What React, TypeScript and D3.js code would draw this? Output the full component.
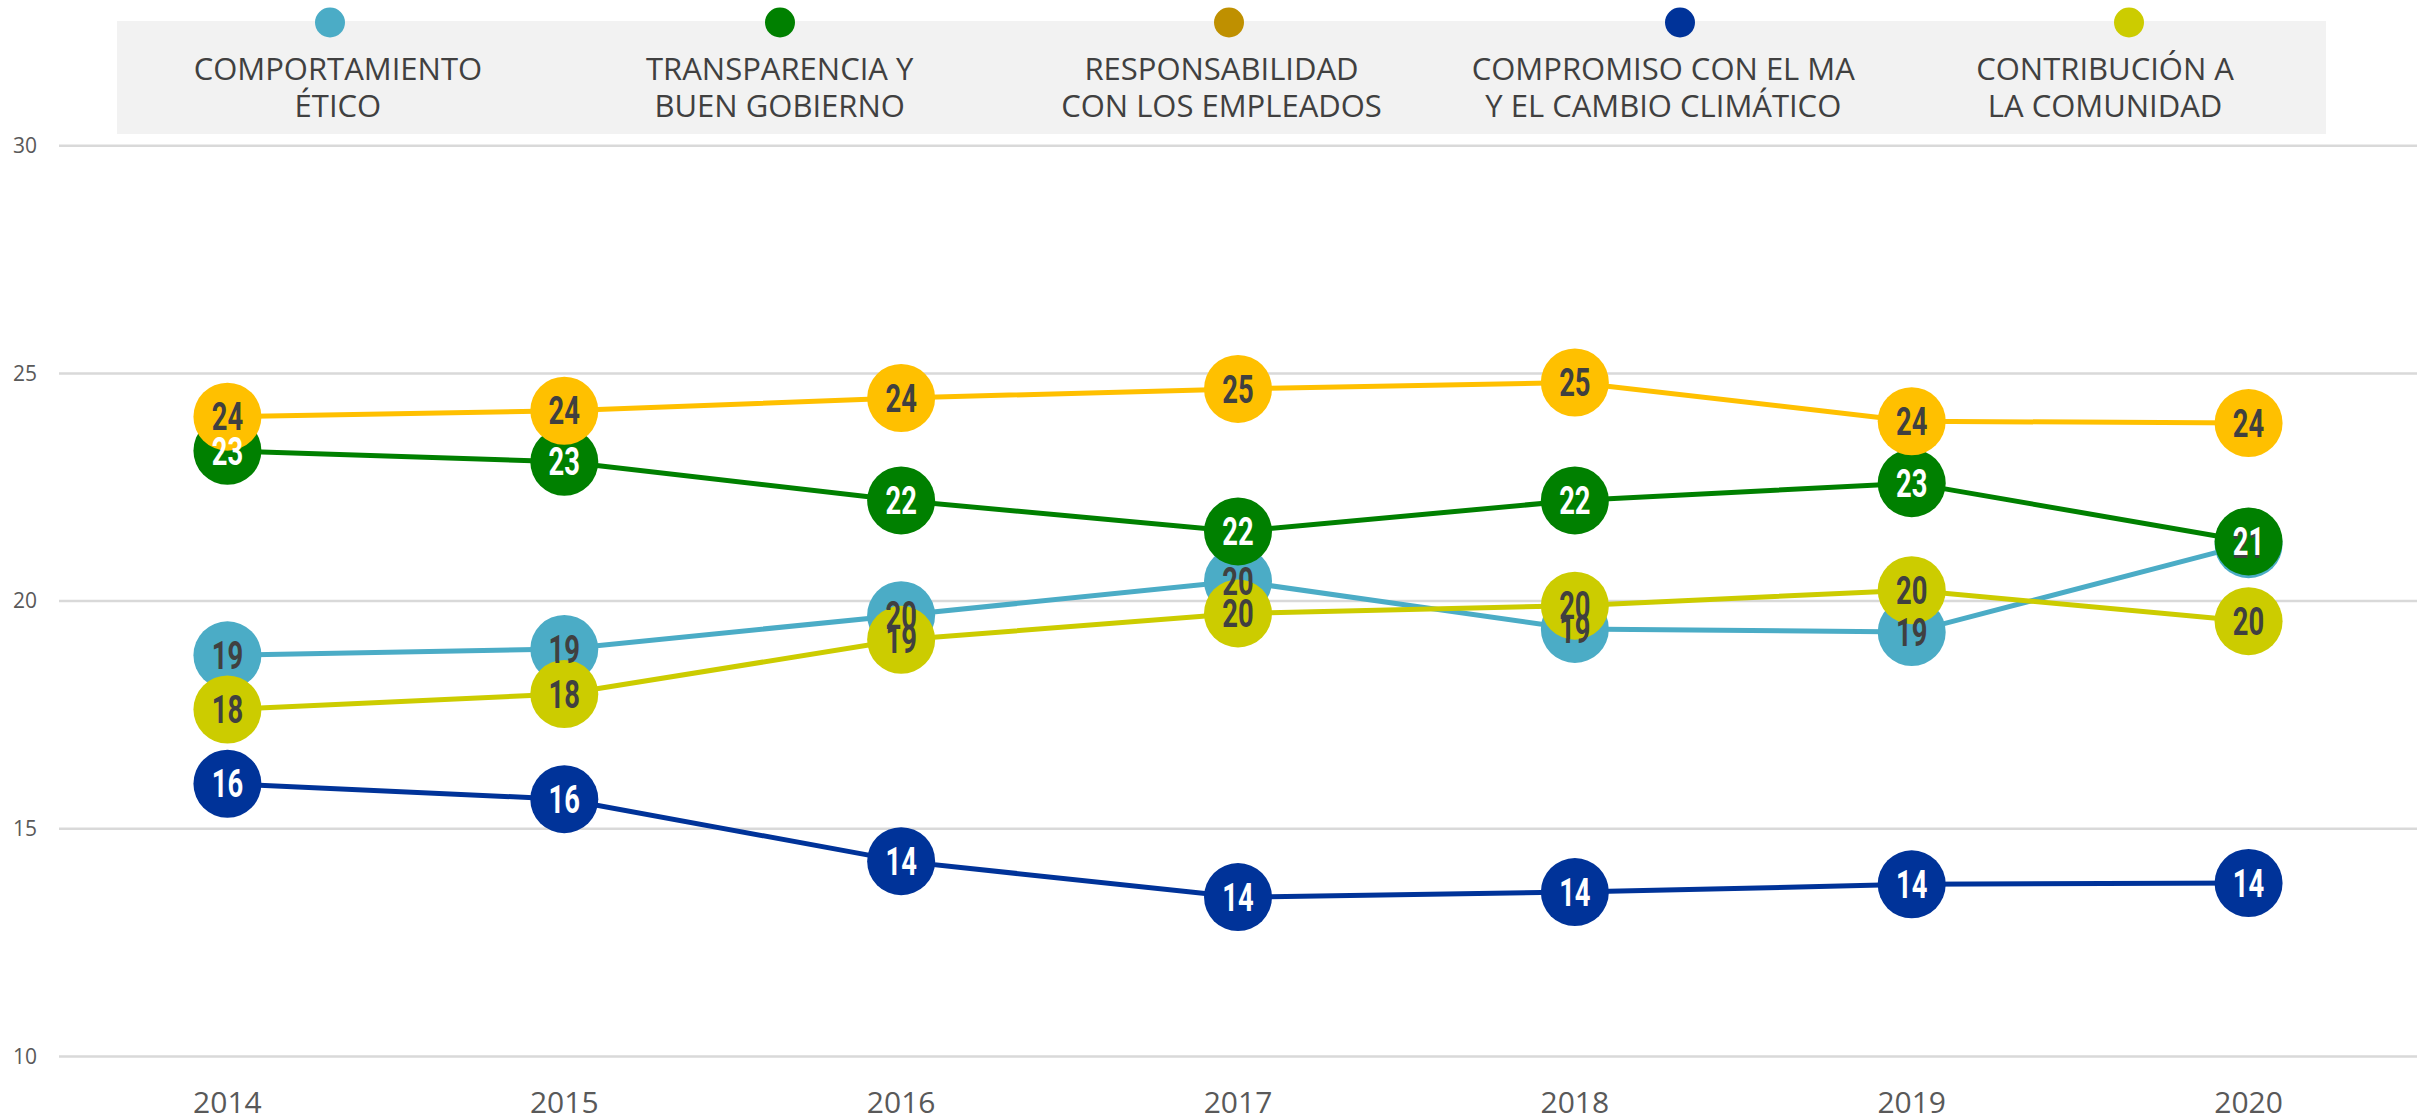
import React from "react";
import * as d3 from "d3";

const years = ["2014", "2015", "2016", "2017", "2018", "2019", "2020"];
const seriesNames = [
  ["COMPORTAMIENTO", "ÉTICO"],
  ["TRANSPARENCIA Y", "BUEN GOBIERNO"],
  ["RESPONSABILIDAD", "CON LOS EMPLEADOS"],
  ["COMPROMISO CON EL MA", "Y EL CAMBIO CLIMÁTICO"],
  ["CONTRIBUCIÓN A", "LA COMUNIDAD"],
];
const eticoValues = [18.81, 18.95, 19.69, 20.44, 19.39, 19.32, 21.25];
const transparenciaValues = [23.3, 23.06, 22.21, 21.53, 22.21, 22.59, 21.31];
const empleadosValues = [24.05, 24.18, 24.46, 24.66, 24.8, 23.95, 23.91];
const medioambienteValues = [15.99, 15.65, 14.29, 13.5, 13.61, 13.78, 13.81];
const comunidadValues = [17.62, 17.96, 19.15, 19.73, 19.9, 20.24, 19.56];
const yTicks = [10, 15, 20, 25, 30];

const lineColors = ["#4BACC6", "#008000", "#FFC000", "#003399", "#CCCC00"];
const legendColors = ["#4BACC6", "#008000", "#BF9000", "#003399", "#CCCC00"];
const labelColors = ["#404040", "#FFFFFF", "#404040", "#FFFFFF", "#404040"];

const W = 2430;
const H = 1120;

export default function App() {
  const allValues = [eticoValues, transparenciaValues, empleadosValues, medioambienteValues, comunidadValues];
  const plotLeft = 59;
  const plotRight = 2417;
  const x = d3.scalePoint<string>().domain(years).range([plotLeft, plotRight]).padding(0.5);
  const y = d3.scaleLinear().domain([10, 30]).range([1056.5, 145.7]);
  const line = d3
    .line<number>()
    .x((_, i) => x(years[i]) as number)
    .y((d) => y(d));
  const font = "'Open Sans', 'Noto Sans', sans-serif";
  const boxX = 117;
  const boxW = 2209;
  const legendBand = d3.scaleBand<number>().domain([0, 1, 2, 3, 4]).range([boxX, boxX + boxW]);
  const dotX = [330, 780, 1229, 1680, 2129];
  const r = 34;

  return (
    <svg
      width={W}
      height={H}
      style={{ position: "absolute", left: 0, top: 0, background: "#fff" }}
      fontFamily={font}
    >
      {/* gridlines */}
      {yTicks.map((t) => (
        <g key={t}>
          <line x1={plotLeft} x2={plotRight} y1={y(t)} y2={y(t)} stroke="#D9D9D9" strokeWidth={2.5} />
          <text x={37} y={y(t)} dy="0.35em" textAnchor="end" fontSize={21} fill="#595959">
            {t}
          </text>
        </g>
      ))}
      {/* legend box */}
      <rect x={boxX} y={21} width={boxW} height={113} fill="#F2F2F2" />
      {seriesNames.map((nm, i) => {
        const cx = (legendBand(i) as number) + legendBand.bandwidth() / 2;
        return (
          <g key={i}>
            <circle cx={dotX[i]} cy={22.5} r={15} fill={legendColors[i]} />
            <text x={cx} y={80} textAnchor="middle" fontSize={31} fill="#404040">
              {nm[0]}
            </text>
            <text x={cx} y={117} textAnchor="middle" fontSize={31} fill="#404040">
              {nm[1]}
            </text>
          </g>
        );
      })}
      {/* x labels */}
      {years.map((yr) => (
        <text key={yr} x={x(yr)} y={1113} textAnchor="middle" fontSize={30} fill="#595959">
          {yr}
        </text>
      ))}
      {/* series */}
      {allValues.map((vals, si) => (
        <g key={si}>
          <path d={line(vals) || ""} fill="none" stroke={lineColors[si]} strokeWidth={5} />
          {vals.map((v, i) => (
            <circle key={i} cx={x(years[i])} cy={y(v)} r={r} fill={lineColors[si]} />
          ))}
        </g>
      ))}
      {/* labels on top */}
      {allValues.map((vals, si) => (
        <g key={"l" + si}>
          {vals.map((v, i) => (
            <text
              key={i}
              transform={`translate(${x(years[i])},${y(v)}) scale(0.72,1)`}
              dy="0.36em"
              textAnchor="middle"
              fontSize={38}
              fontWeight="bold"
              fontFamily="Roboto, 'Noto Sans', sans-serif"
              fill={labelColors[si]}
            >
              {Math.round(v)}
            </text>
          ))}
        </g>
      ))}
    </svg>
  );
}
